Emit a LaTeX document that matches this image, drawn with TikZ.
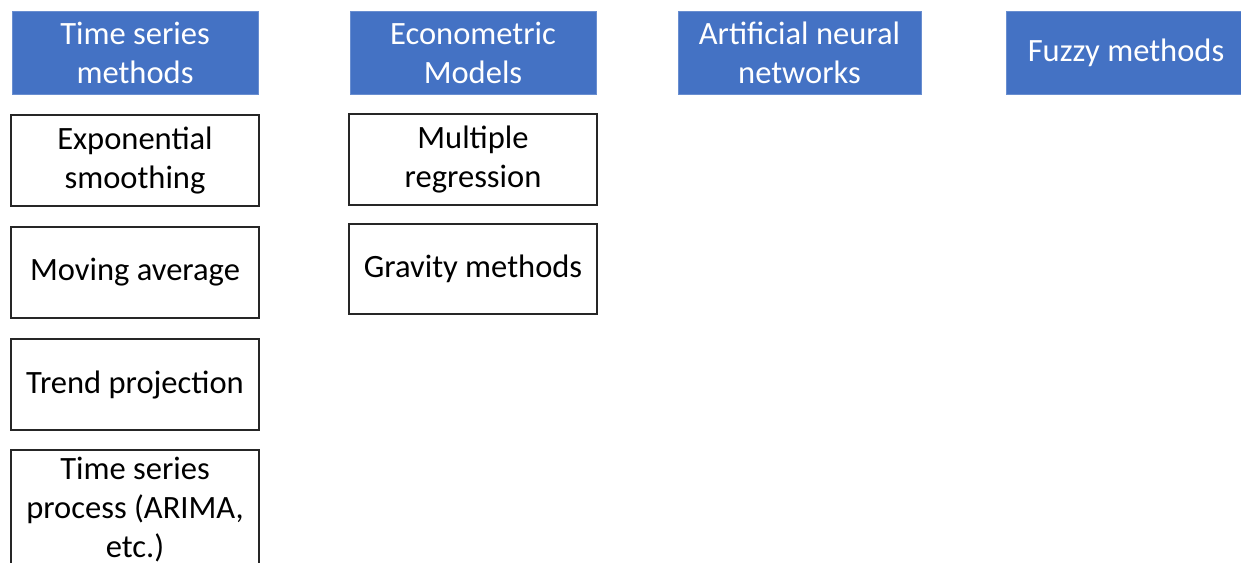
\documentclass[tikz,border=0pt]{standalone}
\usepackage{fontspec}
\setmainfont{Carlito}
\definecolor{hdrblue}{HTML}{4472C4}
\definecolor{boxline}{HTML}{262626}
\begin{document}
\begin{tikzpicture}[x=0.75pt,y=-0.75pt,
  hdr/.style={fill=hdrblue,draw=hdrblue!80!white,line width=0.5pt,text=white,align=center,
    font=\fontsize{24.4}{29.25}\selectfont,inner sep=0pt,minimum height=62.25pt},
  item/.style={draw=boxline,line width=1pt,fill=white,text=black,align=center,
    font=\fontsize{24.4}{29.25}\selectfont,inner sep=0pt,minimum width=186pt},
]
\useasboundingbox (0,0) rectangle (1241,563);
\node[hdr,minimum width=184.5pt] (h1) at (135,52.5) {Time series\\methods};
\node[hdr,minimum width=184.5pt] (h2) at (473,52.5) {Econometric\\Models};
\node[hdr,minimum width=182.25pt] (h3) at (799.5,52.5) {Artificial neural\\networks};
\node[hdr,minimum width=180pt] (h4) at (1126,52.5) {Fuzzy methods};
\node[item,minimum height=68.25pt] (e1) at (135,160.5) {Exponential\\smoothing};
\node[item,minimum height=68.25pt] (e2) at (135,272.5) {Moving average};
\node[item,minimum height=68.25pt] (e3) at (135,384.5) {Trend projection};
\node[item,minimum height=90pt] (e4) at (135,510) {Time series\\process (ARIMA,\\etc.)};
\node[item,minimum height=68.25pt] (m1) at (473,159.5) {Multiple\\regression};
\node[item,minimum height=67.5pt] (m2) at (473,269) {Gravity methods};
\end{tikzpicture}
\end{document}
